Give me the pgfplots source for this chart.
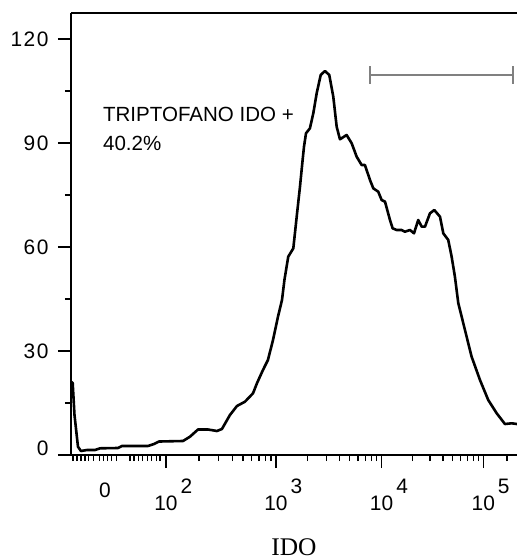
\documentclass[border=0pt]{standalone}
\usepackage{fontspec}
\setmainfont{Liberation Sans}
\newfontfamily\tickfont[LetterSpace=7]{Liberation Sans}
\newfontfamily\seriffont{Liberation Serif}
\usepackage{pgfplots}
\pgfplotsset{compat=1.18}
\definecolor{gate}{RGB}{128,128,128}
\newcommand{\tfont}{\tickfont\fontsize{21}{24}\selectfont}
\begin{document}
\begin{tikzpicture}
\begin{axis}[name=ax, scale only axis, width=446bp, height=442bp,
 xmin=1.102, xmax=5.319, ymin=0, ymax=127.5,
 axis x line=bottom, axis y line=left,
 axis line style={-, line width=1.8bp, black},
 tick align=outside, major tick length=13bp, minor tick length=6bp,
 every tick/.style={line width=1.3bp, black},
 xtick={2,3.04,4.039,5},
 xticklabels={\llap{1}\rlap{0\hspace{3bp}\raisebox{17bp}{2}},
              \llap{1}\rlap{0\hspace{3bp}\raisebox{17bp}{3}},
              \llap{1}\rlap{0\hspace{3bp}\raisebox{17bp}{4}},
              \llap{1}\rlap{0\hspace{3bp}\raisebox{17bp}{5}}},
 minor xtick={1.121,1.159,1.196,1.234,1.265,1.313,1.369,1.407,1.449,1.487,1.534,1.660,1.697,1.742,1.780,1.823,1.865,1.912,1.943,2.313,2.496,2.626,2.727,2.809,2.879,2.939,2.992,3.341,3.517,3.641,3.738,3.817,3.884,3.942,3.993,4.328,4.497,4.618,4.711,4.787,4.851,4.907,4.956,5.224},
 ytick={30,60,90,120}, minor ytick={15,45,75,105},
 extra y ticks={0}, extra y tick style={yticklabel style={yshift=7bp}},
 extra x ticks={1.423}, extra x tick labels={0},
 extra x tick style={major tick length=0pt},
 /pgf/number format/assume math mode=true,
 xticklabel style={font=\tfont, anchor=base, yshift=-42bp},
 yticklabel style={font=\tfont, anchor=east, xshift=-6bp},
 xlabel={IDO},
 xlabel style={at={(axis description cs:0.5,0)}, anchor=base, yshift=-100bp,
   font=\seriffont\fontsize{25.5}{30}\selectfont},
]
\addplot[black, line width=2.6bp, line join=round] coordinates {
(1.102,21.14) (1.118,20.77) (1.135,11.54) (1.168,2.39) (1.196,1.15) (1.253,1.44)
(1.329,1.44) (1.376,1.93) (1.546,2.02) (1.584,2.60) (1.830,2.60) (1.887,3.17)
(1.934,3.89) (2.161,4.04) (2.227,5.28) (2.303,7.36) (2.397,7.36) (2.482,6.92)
(2.529,7.50) (2.605,11.54) (2.671,14.13) (2.747,15.38) (2.823,17.80) (2.860,20.68)
(2.917,24.52) (2.964,27.40) (3.012,33.17) (3.059,39.89) (3.097,44.71) (3.120,50.48)
(3.156,57.20) (3.204,59.62) (3.236,68.74) (3.267,77.39) (3.292,85.10) (3.305,88.93)
(3.324,92.80) (3.361,94.24) (3.393,98.57) (3.425,104.34) (3.463,109.62) (3.503,110.77)
(3.544,109.62) (3.582,103.36) (3.614,94.70) (3.645,91.07) (3.708,92.31) (3.756,89.91)
(3.803,86.05) (3.850,83.65) (3.881,83.65) (3.929,79.33) (3.960,76.93) (4.007,75.95)
(4.039,73.56) (4.071,73.07) (4.118,67.79) (4.143,65.39) (4.181,64.90) (4.228,64.90)
(4.260,64.41) (4.307,64.90) (4.345,63.95) (4.385,67.79) (4.418,65.86) (4.449,65.86)
(4.496,69.72) (4.537,70.67) (4.591,68.74) (4.622,63.95) (4.669,62.02) (4.701,57.20)
(4.732,51.43) (4.764,43.76) (4.827,36.06) (4.890,28.36) (4.969,21.63) (5.047,15.87)
(5.127,12.03) (5.205,8.94) (5.268,9.14) (5.319,8.94)
};
\addplot[gate, line width=1.5bp, mark=|, mark size=9bp, mark options={solid, line width=1.5bp}]
 coordinates {(3.929,109.6) (5.281,109.6)};
\draw[line width=1.8bp, black] (rel axis cs:0,1) -- (rel axis cs:1,1);
\node[anchor=north west, inner sep=0pt, align=left, font=\fontsize{20.6}{28.7}\selectfont]
 at (axis cs:1.404,100.38) {TRIPTOFANO IDO +\\40.2\%};
\end{axis}
\pgfresetboundingbox
\path[use as bounding box] ([shift={(-71bp,-104bp)}]ax.south west) rectangle ([shift={(0bp,13bp)}]ax.north east);
\end{tikzpicture}
\end{document}
